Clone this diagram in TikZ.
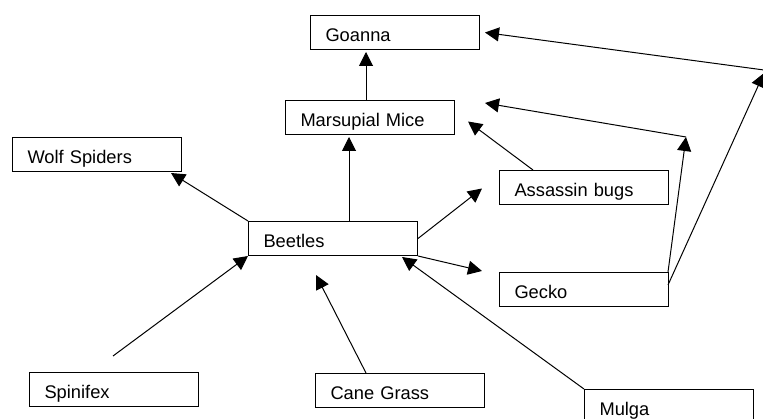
\documentclass[tikz,border=0pt]{standalone}
\usepackage{fontspec}
\setmainfont{Liberation Sans}
\usetikzlibrary{calc,arrows.meta}
\tikzset{
  box/.style={draw, line width=1pt, anchor=north west, minimum width=169pt, minimum height=34pt,
    inner xsep=15pt, inner ysep=6pt, text width=139pt, align=left, text height=20pt, text depth=2pt,
    font=\fontsize{18.3pt}{20pt}\selectfont},
  arr/.style={line width=1pt, -{Triangle[length=14pt,width=14pt]}},
  ln/.style={line width=1pt}
}
\begin{document}
\begin{tikzpicture}[x=1pt,y=-1pt]
\useasboundingbox (0,0) rectangle (763,419);
\clip (0,0) rectangle (763,419);
\fill[white] (0,0) rectangle (763,419);
% boxes
\node[box] (goanna) at (310,15) {Goanna};
\node[box] (mm) at (285,100) {Marsupial Mice};
\node[box] (wolf) at (12,137) {Wolf Spiders};
\node[box] (beetles) at (248,221) {Beetles};
\node[box] (ab) at (499,170) {Assassin bugs};
\node[box] (gecko) at (499,272) {Gecko};
\node[box] (mulga) at (584,389) {Mulga};
\node[box] (spin) at (29,372) {Spinifex};
\node[box] (cane) at (315,373) {Cane Grass};
% helper coordinates
\coordinate (m1) at ($(mm.north west)+(81,0)$);
\coordinate (b1) at ($(beetles.north west)+(101,0)$);
\coordinate (c1) at (686,137);
\coordinate (c2) at (764,70);
% connectors
\draw[arr] (m1) -- ($(m1 |- goanna.south)+(0,2)$);
\draw[arr] (b1) -- ($(b1 |- mm.south)+(0,2)$);
\draw[arr] (beetles.north west) -- ($(wolf.south east)+(-11,1)$);
\draw[arr] (beetles.east) -- ($(ab.west)+(-17,1)$);
\draw[arr] (beetles.south east) -- ($(gecko.north west)+(-17,-1)$);
\draw[arr] ($(spin.north west)+(84,-16)$) -- (beetles.south west);
\draw[arr] ($(cane.north west)+(51,0)$) -- ($(beetles.south west)+(68,19)$);
\draw[arr] (mulga.north west) -- ($(beetles.south east)+(-16,1)$);
\draw[arr] ($(ab.north west)+(34,0)$) -- ($(mm.east)+(13,4)$);
\draw[arr] ($(gecko.north east)+(-1,0)$) -- (c1);
\draw[arr] (c1) -- ($(mm.north east)+(30,3)$);
\draw[arr] ($(gecko.north east)+(-1,13)$) -- ($(c2)+(0,3)$);
\draw[arr] (c2) -- ($(goanna.east)+(5,0)$);
\end{tikzpicture}
\end{document}
